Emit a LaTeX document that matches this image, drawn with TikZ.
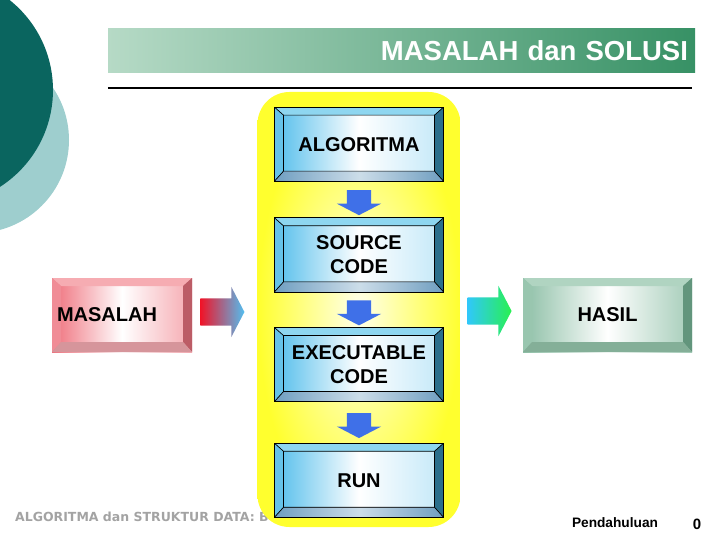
\documentclass[tikz,border=0pt]{standalone}
\usepackage{fontspec}
\setmainfont{Liberation Sans}
\newfontfamily\footfont{DejaVu Sans}
\usetikzlibrary{positioning,calc,shapes.arrows}
\definecolor{TealDark}{HTML}{0A655F}
\definecolor{TealLight}{HTML}{9ECECE}
\definecolor{BarLight}{HTML}{B6DAC6}
\definecolor{BarDark}{HTML}{379165}
\definecolor{PanelYellow}{HTML}{FFFF2E}
\definecolor{PanelCore}{HTML}{FFFFEA}
\definecolor{FaceBlue}{HTML}{52BDEB}
\definecolor{BevTop}{HTML}{8ED6F0}
\definecolor{BevLeft}{HTML}{66C2E8}
\definecolor{BevRight}{HTML}{2B6F8C}
\definecolor{BevBot}{HTML}{6F9EC0}
\definecolor{ArrowBlue}{HTML}{3F70E8}
\definecolor{PinkFace}{HTML}{EF6F7B}
\definecolor{PinkTop}{HTML}{F6ACB2}
\definecolor{PinkSide}{HTML}{F08C96}
\definecolor{PinkDark}{HTML}{BC5C66}
\definecolor{PinkBot}{HTML}{D6959B}
\definecolor{SageFace}{HTML}{8DBFA6}
\definecolor{SageTop}{HTML}{B0D4C1}
\definecolor{SageSide}{HTML}{99C6AF}
\definecolor{SageDark}{HTML}{62957C}
\definecolor{SageBot}{HTML}{84AF98}
\definecolor{HotRed}{HTML}{F01428}
\definecolor{SkyBlue}{HTML}{52BEF0}
\definecolor{ArrowCyan}{HTML}{30C8FA}
\definecolor{ArrowGreen}{HTML}{28F050}
\definecolor{FootGray}{HTML}{A3A3A3}
\tikzset{
  bevel/.style n args={5}{path picture={
    \coordinate (bvNW) at (path picture bounding box.north west);
    \coordinate (bvNE) at (path picture bounding box.north east);
    \coordinate (bvSW) at (path picture bounding box.south west);
    \coordinate (bvSE) at (path picture bounding box.south east);
    \coordinate (bvnw) at ([shift={(9pt,-8pt)}]bvNW);
    \coordinate (bvne) at ([shift={(-9pt,-8pt)}]bvNE);
    \coordinate (bvsw) at ([shift={(9pt,10pt)}]bvSW);
    \coordinate (bvse) at ([shift={(-9pt,10pt)}]bvSE);
    \fill[#1] (bvNW) -- (bvNE) -- (bvne) -- (bvnw) -- cycle;
    \fill[#2] (bvNW) -- (bvnw) -- (bvsw) -- (bvSW) -- cycle;
    \fill[#3] (bvNE) -- (bvSE) -- (bvse) -- (bvne) -- cycle;
    \fill[#4] (bvSW) -- (bvsw) -- (bvse) -- (bvSE) -- cycle;
    \draw[#5, line width=0.7pt] (bvnw) rectangle (bvse) (bvNW) -- (bvnw) (bvNE) -- (bvne)
      (bvSW) -- (bvsw) (bvSE) -- (bvse);
  }},
  titlebar/.style={minimum width=587pt, minimum height=44pt, text width=573pt, inner xsep=7pt,
                   align=right, left color=BarLight, right color=BarDark, text=white,
                   font=\fontsize{27.5}{30}\selectfont\bfseries},
  panel/.style={rounded corners=32pt, minimum width=203pt, minimum height=435pt,
                inner color=PanelCore, outer color=PanelYellow},
  stage/.style={draw=black, line width=0.7pt, minimum width=169pt, minimum height=74pt,
                align=center, font=\fontsize{20}{24}\selectfont\bfseries,
                left color=FaceBlue, right color=FaceBlue!35, middle color=white,
                bevel={BevTop}{BevLeft}{BevRight}{{left color=BevBot, right color=BevBot, middle color=BevBot!35}}{draw=black}},
  sidebox/.style={minimum height=74pt, font=\fontsize{20}{24}\selectfont\bfseries},
  problem/.style={sidebox, minimum width=140pt, text width=130pt, inner xsep=5pt, align=left,
                  left color=PinkFace, right color=PinkFace!60, middle color=white,
                  bevel={PinkTop}{PinkSide}{PinkDark}{PinkBot}{draw=none}},
  result/.style={sidebox, minimum width=169pt, align=center,
                 left color=SageFace, right color=SageFace!80, middle color=white,
                 bevel={SageTop}{SageSide}{SageDark}{SageBot}{draw=none}},
  drop/.style={single arrow, rotate=-90, fill=ArrowBlue, inner xsep=0pt, inner ysep=12pt,
               minimum width=44pt, minimum height=25pt, single arrow head extend=10pt,
               single arrow tip angle=125},
  pointer/.style={single arrow, inner xsep=0pt, inner ysep=13.5pt, minimum width=50pt,
                  minimum height=44pt, single arrow head extend=11.5pt, single arrow tip angle=125},
}
\begin{document}
\begin{tikzpicture}[x=1pt, y=-1pt]
  \useasboundingbox (0,0) rectangle (720,540);
  \clip (0,0) rectangle (720,540);
  \fill[TealLight] (-24,140) circle[radius=93pt];
  \fill[TealDark] (-62,90) circle[radius=115pt];
  \node[titlebar] (title) at (401.5,51) {MASALAH dan SOLUSI};
  \draw[line width=2pt] ([yshift=-15pt]title.south west) -- ([yshift=-15pt,xshift=-3pt]title.south east);
  \node[font=\footfont\bfseries\fontsize{12.5}{14}\selectfont, text=FootGray, anchor=west, inner sep=0pt] (course) at (15,517) {ALGORITMA dan STRUKTUR DATA: B};
  \node[font=\bfseries\fontsize{13.7}{16}\selectfont] (chapter) at (615,523) {Pendahuluan};
  \node[font=\bfseries\fontsize{15}{17}\selectfont] (page) at (697,524) {0};
  \node[panel] (frame) at (359,309.5) {};
  \node[stage, below=15pt of frame.north] (algo) {ALGORITMA};
  \node[stage, below=36pt of algo] (source) {SOURCE\\CODE};
  \node[stage, below=35pt of source] (exec) {EXECUTABLE\\CODE};
  \node[stage, below=41pt of exec] (run) {RUN};
  \node[drop] (d1) at ($(algo.south)!0.5!(source.north)$) {};
  \node[drop] (d2) at ($(source.south)!0.5!(exec.north)$) {};
  \node[drop] (d3) at ($(exec.south)!0.5!(run.north)$) {};
  \node[problem] (masalah) at (122,315) {MASALAH};
  \node[result] (hasil) at (607.5,315) {HASIL};
  \node[pointer, left color=HotRed, right color=SkyBlue, right=8pt of masalah, yshift=3pt] (inarrow) {};
  \node[pointer, left color=ArrowCyan, right color=ArrowGreen, left=11pt of hasil, yshift=4pt] (outarrow) {};
\end{tikzpicture}
\end{document}
